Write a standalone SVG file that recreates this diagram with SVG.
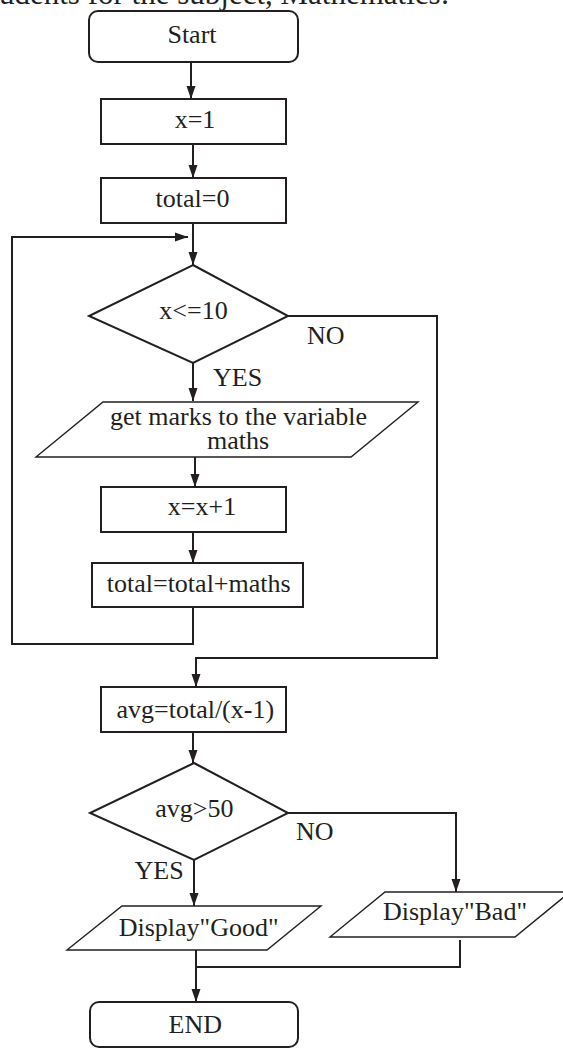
<svg xmlns="http://www.w3.org/2000/svg" width="563" height="1048" viewBox="0 0 563 1048">
<style>
text{font-family:"Liberation Serif","Times New Roman",serif;font-size:26px;fill:#231f20}
.c{text-anchor:middle}
.n{fill:#fff;stroke:#231f20;stroke-width:2}
.p{fill:#fff;stroke:#231f20;stroke-width:1.4}
.e{fill:none;stroke:#231f20;stroke-width:2}
</style>
<defs>
<marker id="ah" markerUnits="userSpaceOnUse" markerWidth="13" markerHeight="10" refX="13" refY="5" orient="auto">
<path d="M0,0.5 L13,5 L0,9.5 z" fill="#231f20"/>
</marker>
</defs>
<text x="-1" y="3.5" style="font-size:31px">udents for the subject, Mathematics:</text>
<g id="connectors">
<path class="e" d="M191,62 V99" marker-end="url(#ah)"/>
<path class="e" d="M193,144 V178" marker-end="url(#ah)"/>
<path class="e" d="M193,223 V265" marker-end="url(#ah)"/>
<path class="e" d="M193,363 V401" marker-end="url(#ah)"/>
<path class="e" d="M195,452 V487" marker-end="url(#ah)"/>
<path class="e" d="M193,532 V563" marker-end="url(#ah)"/>
<path class="e" d="M193,607 V644 H12 V237 H188" marker-end="url(#ah)"/>
<path class="e" d="M288,316 H437 V658 H196 V687" marker-end="url(#ah)"/>
<path class="e" d="M193,732 V763" marker-end="url(#ah)"/>
<path class="e" d="M288,813 H456 V892" marker-end="url(#ah)"/>
<path class="e" d="M194,860 V906" marker-end="url(#ah)"/>
<path class="e" d="M196,949 V1002" marker-end="url(#ah)"/>
<path class="e" d="M460,940 V967 H196"/>
<text x="307" y="344">NO</text>
<text x="213" y="386">YES</text>
<text x="296" y="840">NO</text>
<text x="134.6" y="879">YES</text>
</g>
<g id="start"><rect class="n" x="89" y="11" width="209" height="51" rx="9"/><text class="c" x="192" y="43">Start</text></g>
<g id="x1"><rect class="n" x="101" y="99" width="185" height="45"/><text class="c" x="195" y="128">x=1</text></g>
<g id="total0"><rect class="n" x="101" y="178" width="185" height="45"/><text class="c" x="192.5" y="207">total=0</text></g>
<g id="cond1"><polygon class="n" points="193,265 288,316 193,363 89,316"/><text class="c" x="193.5" y="319">x&lt;=10</text></g>
<g id="input"><polygon class="p" points="103,402 418,402 351,457 36,457"/><text class="c"><tspan x="238.5" y="425">get marks to the variable</tspan><tspan x="238" y="449">maths</tspan></text></g>
<g id="incr"><rect class="n" x="101" y="487" width="185" height="45"/><text class="c" x="202" y="515">x=x+1</text></g>
<g id="sum"><rect class="n" x="92" y="563" width="211" height="44"/><text class="c" x="198.7" y="592">total=total+maths</text></g>
<g id="avg"><rect class="n" x="101" y="687" width="185" height="45"/><text class="c" x="195.3" y="718">avg=total/(x-1)</text></g>
<g id="cond2"><polygon class="n" points="194,763 288,813 194,860 90,813"/><text class="c" x="194.3" y="817">avg&gt;50</text></g>
<g id="good"><polygon class="p" points="122,906 321,906 267,950 67,950"/><text class="c" x="198.6" y="936">Display"Good"</text></g>
<g id="bad"><polygon class="p" points="385,892 570,892 515,937 330,937"/><text class="c" x="455" y="920">Display"Bad"</text></g>
<g id="end"><rect class="n" x="90" y="1002" width="208" height="45" rx="9"/><text class="c" x="195.3" y="1033">END</text></g>
</svg>
